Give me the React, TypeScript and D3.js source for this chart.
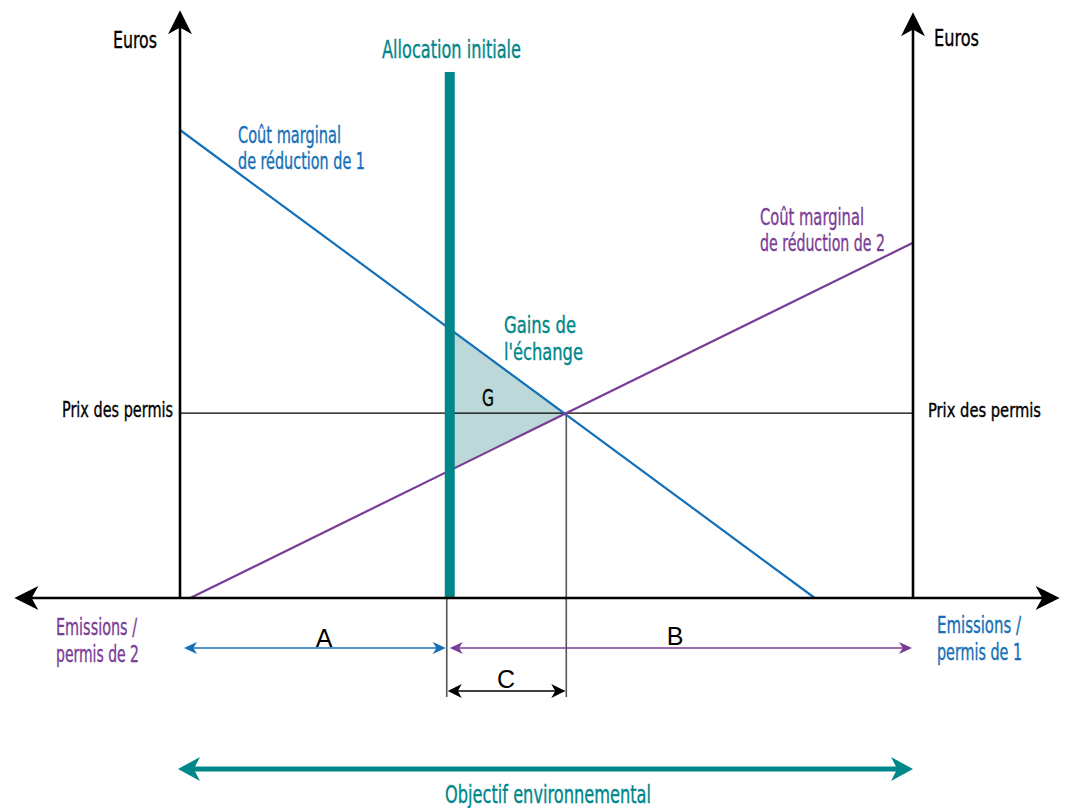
import React from 'react';
import * as d3 from 'd3';

// chart values in an abstract unit space (x: emissions, y: euros)
const blueCurve: [number, number][] = [[0, 100], [86.6, 0]];
const purpleCurve: [number, number][] = [[1.4, 0], [100, 75.9]];
const gainsTriangle: [number, number][] = [[36.8, 57.5], [52.7, 39.5], [36.8, 27.3]];
const permitPrice = 39.5;
const allocationX = 36.8;
const equilibriumX = 52.7;
const allocationTop = 112.4;
const axisExtent = { xMin: -22.6, xMax: 120, yMax: 125.6 };

const BLUE = '#1470b8';
const PURPLE = '#7a3d96';
const TEAL = '#00878a';
const GRAY = '#555555';
const FONT = '"DejaVu Sans Condensed", "Liberation Sans Narrow", sans-serif';
const LETTER_FONT = '"Liberation Sans", Arial, sans-serif';

function arrowHead(x: number, y: number, angle: number, len: number, w: number, color: string, key: string) {
  const d = `M0,0 L${-len},${-w / 2} L${-len * 0.72},0 L${-len},${w / 2} Z`;
  return <path key={key} d={d} fill={color} transform={`translate(${x},${y}) rotate(${angle})`} />;
}

export default function App(): JSX.Element {
  const width = 1069;
  const height = 808;

  const x = d3.scaleLinear().domain([0, 100]).range([180, 913]);
  const y = d3.scaleLinear().domain([0, 100]).range([598, 130]);

  const line = d3
    .line<[number, number]>()
    .x((d) => x(d[0]))
    .y((d) => y(d[1]));

  const xLeft = x(axisExtent.xMin);
  const xRight = x(axisExtent.xMax);
  const yTop = y(axisExtent.yMax);
  const x0 = x(0);
  const x100 = x(100);
  const y0 = y(0);
  const xa = x(allocationX);
  const xe = x(equilibriumX);
  const yp = y(permitPrice);

  const rowA = 648;
  const rowC = 691;
  const rowObj = 769;

  // condensed label squeezed to the measured width w
  const txt = (
    key: string,
    tx: number,
    ty: number,
    s: string,
    color: string,
    w: number,
    size = 23,
    anchor = 'start'
  ) => (
    <text
      key={key}
      x={tx}
      y={ty}
      fill={color}
      stroke={color}
      strokeWidth={0.35}
      fontSize={size}
      fontFamily={FONT}
      textAnchor={anchor}
      textLength={w}
      lengthAdjust="spacingAndGlyphs"
    >
      {s}
    </text>
  );

  return (
    <svg width={width} height={height} style={{ position: 'absolute', left: 0, top: 0, background: 'white' }}>
      {/* gains triangle */}
      <path d={line(gainsTriangle)! + 'Z'} fill="#bcd8d9" />

      {/* price line */}
      <line x1={x0} x2={x100} y1={yp} y2={yp} stroke="#000" strokeWidth={1.3} />

      {/* guide verticals */}
      <line x1={xe} x2={xe} y1={yp} y2={697} stroke={GRAY} strokeWidth={1.6} />
      <line x1={xa - 3} x2={xa - 3} y1={y0} y2={697} stroke={GRAY} strokeWidth={1.6} />

      {/* curves */}
      <path d={line(blueCurve)!} stroke={BLUE} strokeWidth={2.2} fill="none" />
      <path d={line(purpleCurve)!} stroke={PURPLE} strokeWidth={2.2} fill="none" />

      {/* allocation bar */}
      <rect x={xa - 5} width={10} y={y(allocationTop)} height={y0 - y(allocationTop)} fill={TEAL} />

      {/* axes */}
      <line x1={xLeft + 10} x2={xRight - 10} y1={y0} y2={y0} stroke="#000" strokeWidth={2.6} />
      <line x1={x0} x2={x0} y1={y0} y2={yTop + 10} stroke="#000" strokeWidth={2.6} />
      <line x1={x100} x2={x100} y1={y0} y2={yTop + 10} stroke="#000" strokeWidth={2.6} />
      {arrowHead(xLeft, y0, 180, 24, 24, '#000', 'al')}
      {arrowHead(xRight, y0, 0, 24, 24, '#000', 'ar')}
      {arrowHead(x0, yTop, -90, 24, 24, '#000', 'au1')}
      {arrowHead(x100, yTop + 2, -90, 24, 24, '#000', 'au2')}

      {/* A arrow */}
      <line x1={x0 + 8} x2={xa - 8} y1={rowA} y2={rowA} stroke={BLUE} strokeWidth={1.5} />
      {arrowHead(x0 + 4, rowA, 180, 13, 12, BLUE, 'a1')}
      {arrowHead(xa - 4, rowA, 0, 13, 12, BLUE, 'a2')}
      {/* B arrow */}
      <line x1={xa + 4} x2={x100 - 4} y1={rowA} y2={rowA} stroke={PURPLE} strokeWidth={1.5} />
      {arrowHead(xa, rowA, 180, 13, 12, PURPLE, 'b1')}
      {arrowHead(x100 - 1, rowA, 0, 13, 12, PURPLE, 'b2')}
      {/* C arrow */}
      <line x1={xa} x2={xe - 2} y1={rowC} y2={rowC} stroke="#000" strokeWidth={1.5} />
      {arrowHead(xa - 2, rowC, 180, 14, 14, '#000', 'c1')}
      {arrowHead(xe - 1, rowC, 0, 14, 14, '#000', 'c2')}
      {/* objectif arrow */}
      <line x1={x0 + 10} x2={x100 - 10} y1={rowObj} y2={rowObj} stroke={TEAL} strokeWidth={5} />
      {arrowHead(x0 - 2, rowObj, 180, 22, 24, TEAL, 'o1')}
      {arrowHead(x100, rowObj, 0, 22, 24, TEAL, 'o2')}

      {/* labels */}
      {txt('e1', 113, 48, 'Euros', '#000', 44, 23)}
      {txt('e2', 934, 46, 'Euros', '#000', 45, 23)}
      {txt('ai', 382, 58, 'Allocation initiale', TEAL, 139, 24)}
      {txt('c1a', 238, 143, 'Coût marginal', BLUE, 103)}
      {txt('c1b', 238, 169, 'de réduction de 1', BLUE, 127)}
      {txt('c2a', 760, 225, 'Coût marginal', PURPLE, 104)}
      {txt('c2b', 760, 251, 'de réduction de 2', PURPLE, 125)}
      {txt('g1', 504, 333, 'Gains de', TEAL, 72, 23)}
      {txt('g2', 504, 360, "l'échange", TEAL, 79, 23)}
      {txt('g', 482, 406, 'G', '#000', 12, 23)}
      {txt('p1', 62, 417, 'Prix des permis', '#000', 111, 21)}
      {txt('p2', 928, 417, 'Prix des permis', '#000', 113, 19)}
      {txt('m1', 56, 635, 'Emissions /', PURPLE, 81)}
      {txt('m2', 56, 662, 'permis de 2', PURPLE, 83)}
      {txt('n1', 937, 633, 'Emissions /', BLUE, 84)}
      {txt('n2', 937, 660, 'permis de 1', BLUE, 85)}
      <text x={324} y={647} fontSize={25} fontFamily={LETTER_FONT} textAnchor="middle">A</text>
      <text x={675} y={645} fontSize={25} fontFamily={LETTER_FONT} textAnchor="middle">B</text>
      <text x={506} y={688} fontSize={25} fontFamily={LETTER_FONT} textAnchor="middle">C</text>
      {txt('obj', 445, 803, 'Objectif environnemental', TEAL, 206, 25)}
    </svg>
  );
}
